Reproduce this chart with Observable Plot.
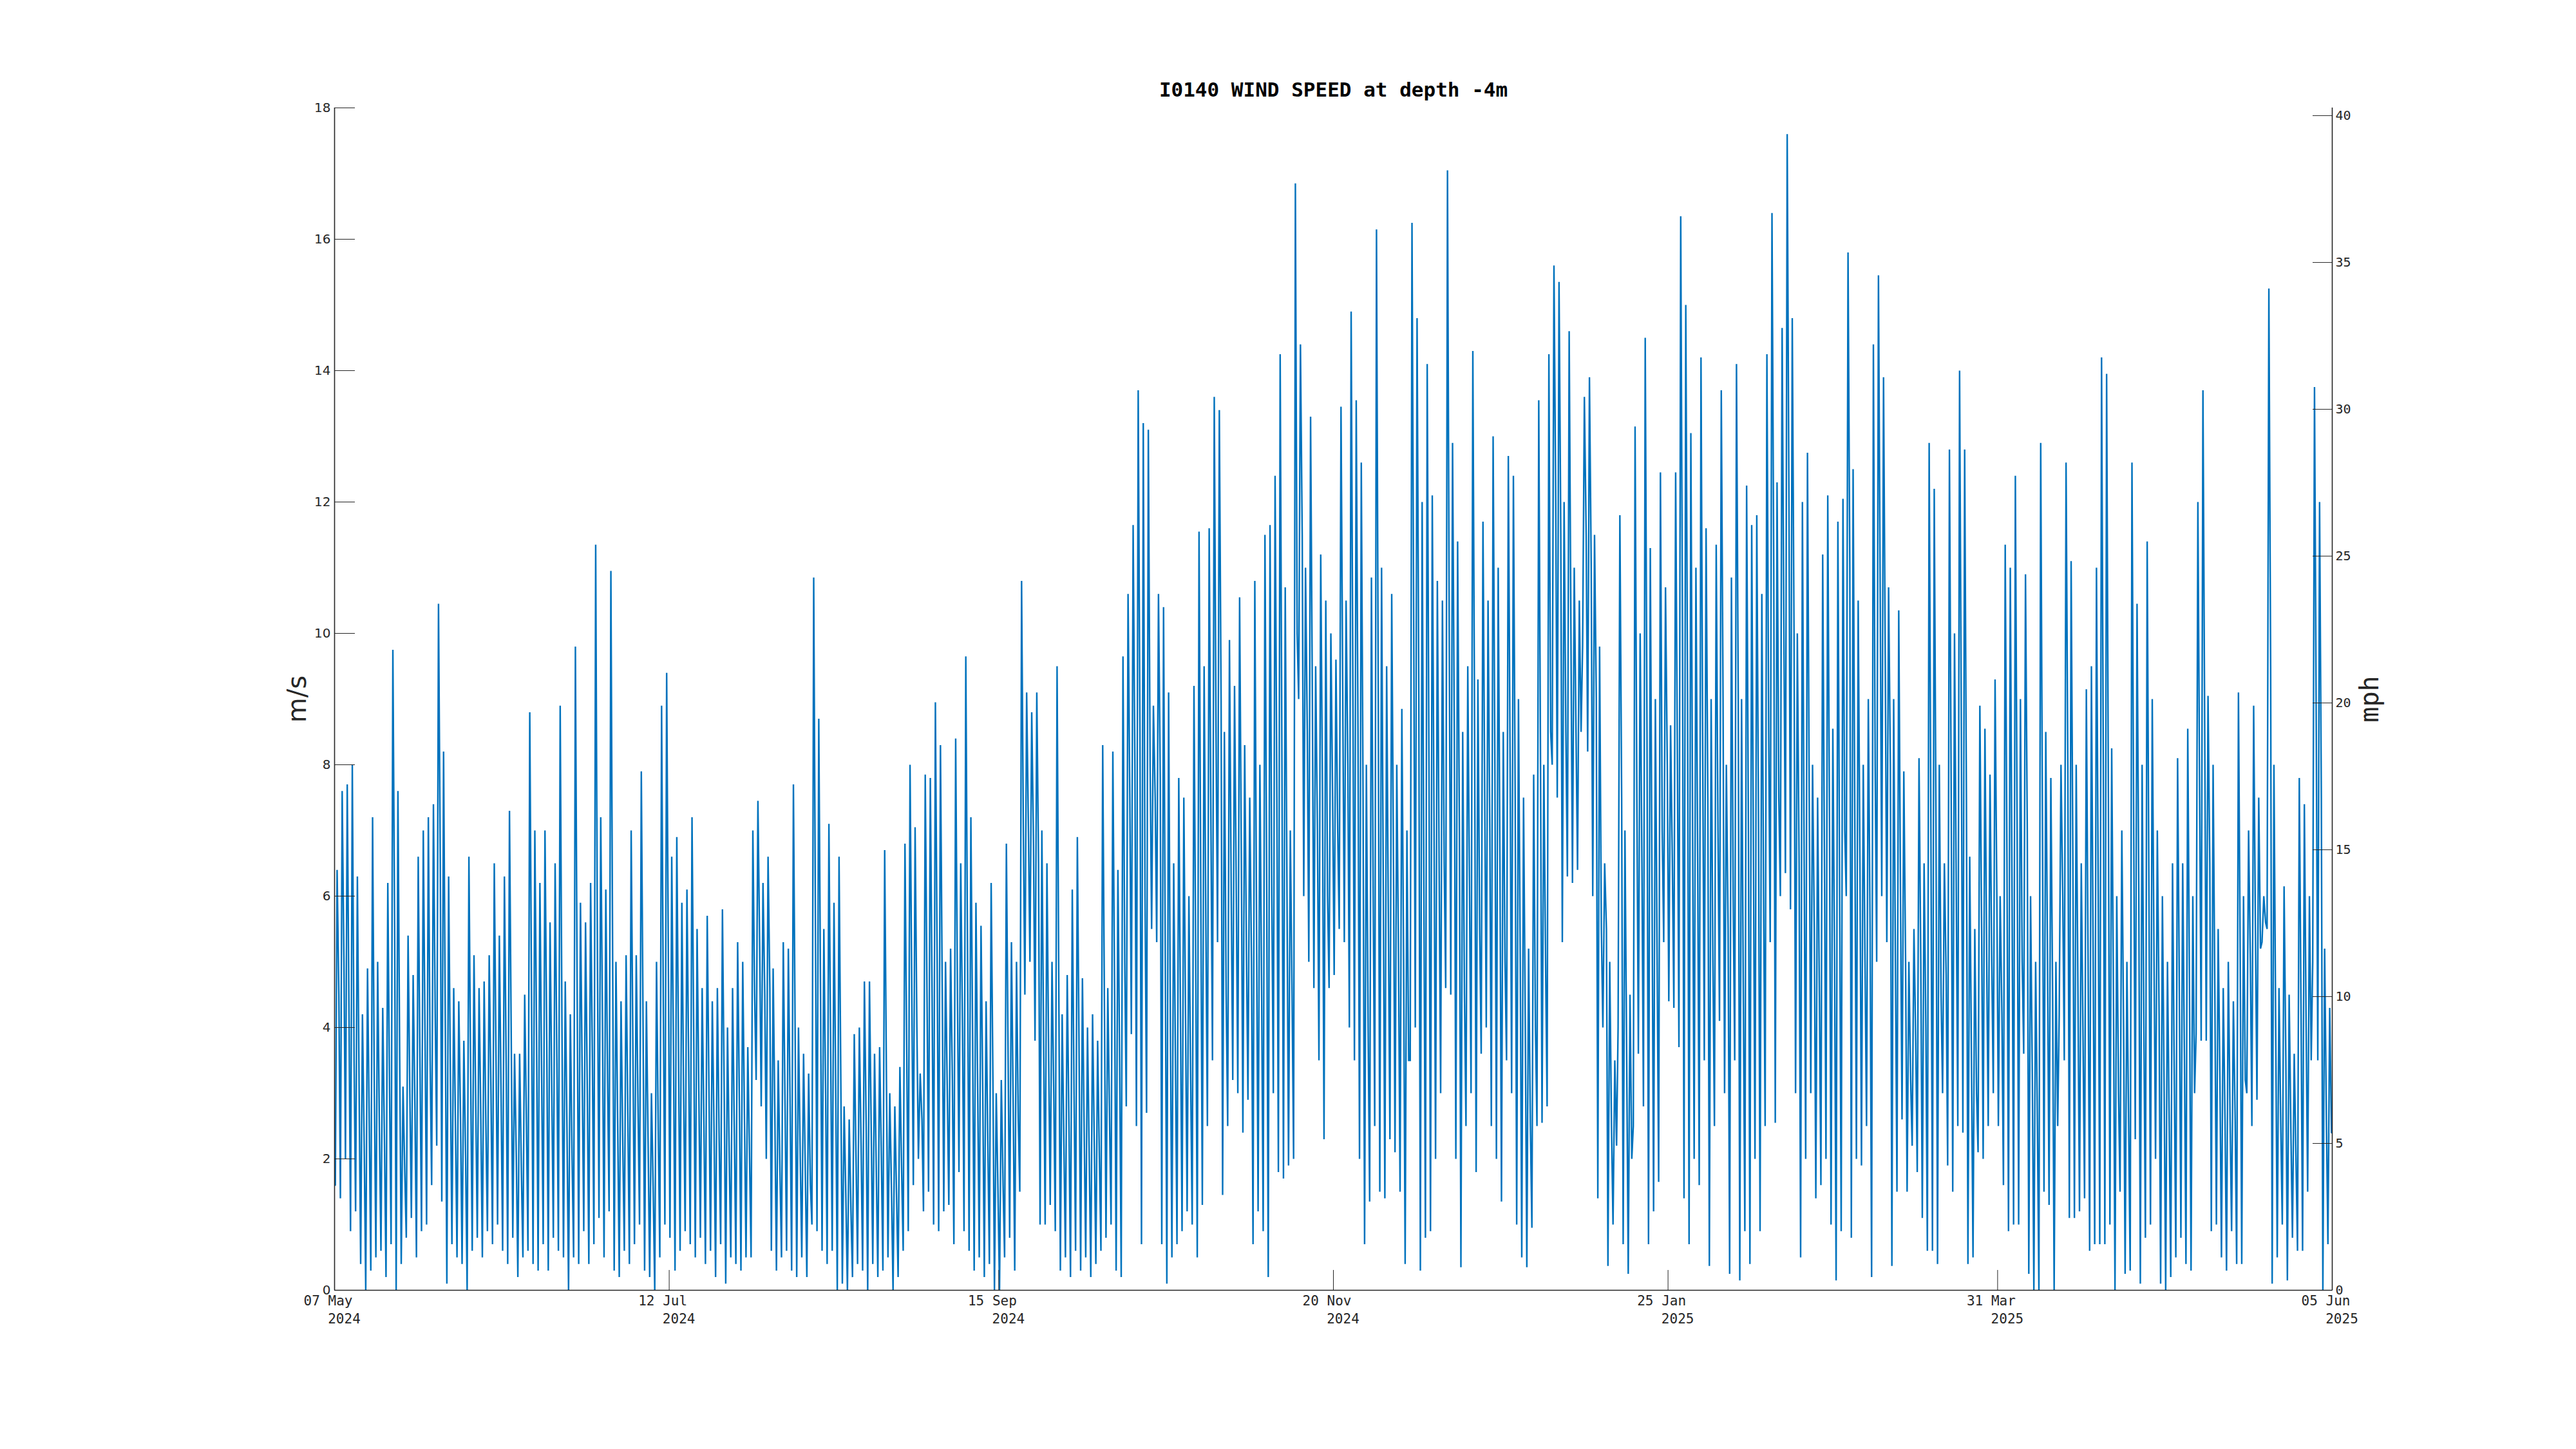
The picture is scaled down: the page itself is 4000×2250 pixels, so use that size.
<!DOCTYPE html>
<html>
<head>
<meta charset="utf-8">
<script src="https://cdn.jsdelivr.net/npm/d3@7"></script>
<script src="https://cdn.jsdelivr.net/npm/@observablehq/plot@0.6"></script>
<style>
  html, body { margin: 0; padding: 0; background: #ffffff; }
  #chart svg { display: block; }
</style>
</head>
<body>
<div id="chart"></div>
<script>
// ---- texts and ticks ----
const title = "I0140 WIND SPEED at depth -4m";
const yLabelLeft = "m/s";
const yLabelRight = "mph";
const startDate = "2024-05-07";
const endDate = "2025-06-05";
const xTickDates = ["2024-05-07", "2024-07-12", "2024-09-15", "2024-11-20", "2025-01-25", "2025-03-31", "2025-06-05"];
const xTickLine1 = ["07 May", "12 Jul", "15 Sep", "20 Nov", "25 Jan", "31 Mar", "05 Jun"];
const xTickLine2 = ["2024", "2024", "2024", "2024", "2025", "2025", "2025"];
const msTicks = [0, 2, 4, 6, 8, 10, 12, 14, 16, 18];
const mphTicks = [0, 5, 10, 15, 20, 25, 30, 35, 40];
const MPH_TO_MS = 0.44704;

// ---- daily low / high / typical wind speed (m/s) ----
// 07 May - 11 Jul 2024
const hiA = [6.4, 7.6, 7.7, 8.0, 6.3, 4.2, 4.9, 7.2, 5.0, 4.3,
  6.2, 9.75, 7.6, 3.1, 5.4, 4.8, 6.6, 7.0, 7.2, 7.4,
  10.45, 8.2, 6.3, 4.6, 4.4, 3.8, 6.6, 5.1, 4.6, 4.7,
  5.1, 6.5, 5.4, 6.3, 7.3, 3.6, 3.6, 4.5, 8.8, 7.0,
  6.2, 7.0, 5.6, 6.5, 8.9, 4.7, 4.2, 9.8, 5.9, 5.6,
  6.2, 11.35, 7.2, 6.1, 10.95, 5.0, 4.4, 5.1, 7.0, 5.1,
  7.9, 4.4, 3.0, 5.0, 8.9, 9.4];
const loA = [1.6, 1.4, 2.0, 0.9, 1.2, 0.4, 0.0, 0.3, 0.5, 0.6,
  0.2, 0.7, 0.0, 0.4, 0.8, 1.1, 0.5, 0.9, 1.0, 1.6,
  2.2, 1.35, 0.1, 0.7, 0.5, 0.4, 0.0, 0.6, 0.8, 0.5,
  0.9, 0.7, 1.0, 0.6, 0.4, 0.8, 0.2, 0.5, 0.6, 0.4,
  0.3, 0.7, 0.3, 0.8, 0.6, 0.5, 0.0, 0.5, 0.4, 0.9,
  0.4, 0.7, 1.1, 0.5, 1.2, 0.3, 0.2, 0.6, 0.4, 0.7,
  1.0, 0.3, 0.2, 0.0, 0.5, 1.0];
const midA = [4.5, 5.0, 4.2, 3.5, 3.0, 2.2, 2.5, 3.0, 2.4, 2.2,
  3.0, 5.5, 3.5, 1.8, 3.0, 2.8, 3.4, 3.8, 3.5, 4.2,
  6.5, 4.0, 3.2, 2.5, 2.6, 2.0, 3.2, 2.8, 2.6, 2.5,
  3.0, 3.5, 2.9, 3.4, 3.8, 2.0, 1.8, 2.5, 4.5, 3.8,
  3.2, 3.8, 3.0, 3.5, 4.0, 2.4, 2.0, 4.5, 3.2, 3.0,
  3.5, 5.0, 4.0, 3.2, 5.0, 2.5, 2.2, 2.6, 3.6, 2.8,
  4.0, 2.2, 1.5, 2.4, 4.2, 4.8];
// 12 Jul - 14 Sep 2024
const hiB = [6.6, 6.9, 5.9, 6.1, 7.2, 5.5, 4.6, 5.7, 4.4, 4.6,
  5.8, 4.0, 4.6, 5.3, 5.0, 3.7, 7.0, 7.45, 6.2, 6.6,
  4.9, 3.5, 5.3, 5.2, 7.7, 4.0, 3.6, 3.3, 10.85, 8.7,
  5.5, 7.1, 5.9, 6.6, 2.8, 2.6, 3.9, 4.0, 4.7, 4.7,
  3.6, 3.7, 6.7, 3.0, 2.8, 3.4, 6.8, 8.0, 7.05, 3.3,
  7.85, 7.8, 8.95, 8.3, 5.0, 5.2, 8.4, 6.5, 9.65, 7.2,
  5.9, 5.55, 4.4, 6.2, 3.0];
const loB = [0.8, 0.3, 0.6, 0.9, 0.7, 0.5, 0.8, 0.4, 0.6, 0.2,
  0.7, 0.1, 0.5, 0.4, 0.3, 0.5, 0.5, 3.2, 2.8, 2.0,
  0.6, 0.3, 0.5, 0.6, 0.3, 0.2, 0.5, 0.2, 1.0, 0.9,
  0.6, 0.4, 0.6, 0.0, 0.1, 0.0, 0.2, 0.4, 0.3, 0.0,
  0.4, 0.2, 0.3, 0.5, 0.0, 0.2, 0.6, 0.9, 1.6, 2.0,
  1.2, 1.5, 1.0, 0.9, 1.2, 1.3, 0.7, 1.8, 0.9, 0.6,
  0.3, 0.5, 0.2, 0.4, 0.0];
const midB = [3.6, 3.5, 3.0, 3.4, 3.8, 3.0, 2.5, 3.0, 2.4, 2.3,
  3.0, 2.0, 2.4, 2.8, 2.6, 2.0, 4.5, 5.2, 4.5, 4.6,
  2.6, 1.8, 2.8, 2.8, 3.8, 2.0, 1.8, 1.6, 5.5, 4.5,
  3.0, 3.6, 3.0, 3.2, 1.4, 1.2, 2.0, 2.2, 2.5, 2.4,
  1.8, 2.0, 3.2, 1.5, 1.4, 1.8, 3.6, 4.5, 4.0, 2.6,
  4.5, 4.5, 5.0, 4.6, 3.0, 3.2, 4.5, 4.0, 5.0, 3.8,
  3.0, 3.0, 2.2, 3.2, 1.5];
// 15 Sep - 19 Nov 2024
const hiC = [3.2, 6.8, 5.3, 5.0, 10.8, 9.1, 8.8, 9.1, 7.0, 6.5,
  5.0, 9.5, 4.2, 4.8, 6.1, 6.9, 4.75, 4.0, 4.2, 3.8,
  8.3, 4.6, 8.2, 6.4, 9.65, 10.6, 11.65, 13.7, 13.2, 13.1,
  8.9, 10.6, 10.4, 9.1, 6.5, 7.8, 7.5, 6.0, 9.2, 11.55,
  9.5, 11.6, 13.6, 13.4, 8.5, 9.9, 9.2, 10.55, 8.3, 7.5,
  10.8, 8.0, 11.5, 11.65, 12.4, 14.25, 10.7, 7.0, 16.85, 14.4,
  11.0, 13.3, 9.5, 11.2, 10.5, 10.0];
const loC = [0.0, 0.5, 0.8, 0.3, 1.5, 4.5, 5.0, 3.8, 1.0, 1.0,
  1.3, 0.9, 0.3, 0.5, 0.2, 0.6, 0.3, 0.5, 0.2, 0.4,
  0.6, 0.8, 1.0, 0.3, 0.2, 2.8, 3.9, 2.5, 0.7, 2.7,
  5.5, 5.3, 0.7, 0.1, 0.5, 0.7, 0.9, 1.2, 1.0, 0.5,
  1.3, 2.5, 3.5, 5.3, 1.45, 2.5, 3.2, 3.0, 2.4, 2.9,
  0.7, 1.2, 0.9, 0.2, 3.0, 1.8, 1.7, 1.9, 2.0, 9.0,
  6.0, 5.0, 4.6, 3.5, 2.3, 4.6];
const midC = [1.6, 3.5, 2.8, 2.6, 7.0, 7.0, 6.8, 6.5, 3.8, 3.5,
  3.0, 4.5, 2.2, 2.5, 3.0, 3.5, 2.4, 2.0, 2.2, 2.0,
  4.2, 2.6, 4.5, 3.4, 5.0, 7.5, 8.0, 8.5, 6.0, 8.0,
  7.5, 7.8, 5.0, 4.0, 3.5, 4.0, 4.0, 3.2, 5.0, 6.0,
  5.5, 7.0, 8.5, 9.0, 4.5, 6.0, 6.0, 6.5, 5.2, 5.0,
  5.5, 4.5, 6.0, 6.0, 7.5, 8.0, 6.0, 4.5, 10.0, 11.5,
  8.5, 9.0, 7.0, 7.5, 6.0, 7.5];
// 20 Nov 2024 - 24 Jan 2025
const hiD = [9.6, 13.45, 10.5, 14.9, 13.55, 12.6, 8.0, 10.85, 16.15, 11.0,
  9.5, 10.6, 8.0, 8.85, 7.0, 16.25, 14.8, 12.0, 14.1, 12.1,
  10.8, 10.5, 17.05, 12.9, 11.4, 8.5, 9.5, 14.3, 9.3, 11.7,
  10.5, 13.0, 11.0, 8.5, 12.7, 12.4, 9.0, 7.5, 5.2, 7.85,
  13.55, 8.0, 14.25, 15.6, 15.35, 12.0, 14.6, 11.0, 10.5, 13.6,
  13.9, 11.5, 9.8, 6.5, 5.0, 3.5, 11.8, 7.0, 4.5, 13.15,
  10.0, 14.5, 11.3, 9.0, 12.45, 10.7];
const loD = [4.8, 5.5, 5.3, 4.0, 3.5, 2.0, 0.7, 1.35, 2.5, 1.5,
  1.4, 2.3, 2.1, 1.5, 0.4, 3.5, 4.0, 0.3, 0.8, 0.9,
  2.0, 3.0, 4.6, 4.5, 2.0, 0.35, 2.5, 3.0, 1.8, 3.6,
  4.0, 2.5, 2.0, 1.35, 3.5, 3.0, 1.0, 0.5, 0.35, 0.95,
  2.5, 2.55, 2.8, 8.0, 7.5, 5.3, 6.3, 6.2, 6.4, 9.8,
  8.2, 6.0, 1.4, 4.0, 0.37, 1.0, 4.0, 0.7, 0.25, 2.5,
  3.6, 2.8, 0.7, 1.2, 1.65, 5.3];
const midD = [7.0, 9.0, 8.0, 9.0, 8.5, 7.5, 4.0, 6.0, 9.0, 6.0,
  5.5, 6.5, 5.0, 5.0, 3.5, 10.0, 9.0, 6.0, 8.0, 7.0,
  6.5, 6.5, 10.0, 8.5, 7.0, 4.5, 6.0, 8.5, 5.5, 7.5,
  7.0, 8.0, 6.5, 5.0, 8.0, 7.5, 5.0, 4.0, 2.5, 4.0,
  8.0, 5.0, 8.5, 12.0, 11.5, 8.5, 10.0, 8.5, 8.5, 11.5,
  11.0, 9.0, 5.5, 5.5, 2.5, 2.2, 7.5, 3.5, 2.0, 7.5,
  6.5, 8.5, 6.0, 5.0, 7.0, 8.0];
// 25 Jan - 30 Mar 2025
const hiE = [8.6, 12.45, 16.35, 15.0, 13.05, 11.0, 14.2, 11.6, 9.0, 11.35,
  13.7, 8.0, 10.85, 14.1, 9.0, 12.25, 11.65, 11.8, 10.6, 14.25,
  16.4, 12.3, 14.65, 17.6, 14.8, 10.0, 12.0, 12.75, 8.0, 7.5,
  11.2, 12.1, 8.55, 11.7, 12.05, 15.8, 12.5, 10.5, 8.0, 9.0,
  14.4, 15.45, 13.9, 10.7, 9.0, 10.35, 7.9, 5.0, 5.5, 8.1,
  6.5, 12.9, 12.2, 8.0, 6.5, 12.8, 10.0, 14.0, 12.8, 6.6,
  5.5, 8.9, 8.55, 7.85, 9.3];
const loE = [4.4, 4.3, 3.7, 1.4, 0.7, 2.0, 1.6, 3.5, 0.37, 2.5,
  4.1, 3.0, 0.25, 3.5, 0.15, 0.9, 0.4, 2.0, 0.9, 2.5,
  5.3, 2.55, 6.0, 6.35, 5.8, 3.0, 0.5, 2.0, 3.0, 1.4,
  1.6, 2.0, 1.0, 0.15, 0.9, 6.0, 0.8, 2.0, 1.9, 2.5,
  0.2, 5.0, 6.0, 5.3, 0.37, 1.5, 2.6, 1.5, 2.2, 1.8,
  1.1, 0.6, 0.6, 0.4, 3.0, 1.9, 1.5, 2.5, 2.4, 0.4,
  0.5, 2.1, 2.0, 2.5, 3.0];
const midE = [6.5, 8.0, 10.0, 9.0, 7.0, 6.5, 8.0, 7.5, 5.0, 7.0,
  9.0, 5.5, 6.0, 9.0, 4.5, 7.0, 6.5, 7.0, 6.0, 8.5,
  11.0, 7.5, 10.0, 12.0, 10.0, 6.5, 6.5, 7.5, 5.5, 4.5,
  6.5, 7.0, 5.0, 6.0, 7.0, 11.0, 7.0, 6.5, 5.0, 5.5,
  8.0, 10.5, 9.5, 8.0, 5.0, 6.0, 5.0, 3.2, 3.8, 5.0,
  4.0, 7.0, 7.0, 4.5, 4.8, 7.5, 6.0, 8.5, 7.5, 3.5,
  3.0, 5.5, 5.0, 5.0, 6.0];
// 31 Mar - 04 Jun 2025
const hiF = [6.0, 11.35, 11.0, 12.4, 9.0, 10.9, 6.0, 5.0, 12.9, 8.5,
  7.8, 5.0, 8.0, 12.6, 11.1, 8.0, 6.5, 9.15, 9.5, 11.0,
  14.2, 13.95, 8.25, 6.0, 7.0, 5.0, 12.6, 10.45, 8.0, 11.4,
  9.0, 7.0, 6.0, 5.0, 6.5, 8.1, 6.5, 8.55, 6.0, 12.0,
  13.7, 9.05, 8.0, 5.5, 4.6, 5.0, 4.4, 9.1, 6.0, 7.0,
  8.9, 7.5, 6.0, 15.25, 8.0, 4.6, 6.15, 4.5, 3.6, 7.8,
  7.4, 6.0, 13.75, 12.0, 5.2, 4.3];
const loF = [2.5, 1.6, 0.9, 1.0, 1.0, 3.6, 0.25, 0.0, 0.0, 1.5,
  1.3, 0.0, 4.2, 3.5, 1.1, 1.1, 1.2, 1.4, 0.6, 0.7,
  0.7, 0.7, 1.0, 0.0, 1.5, 0.25, 0.3, 2.3, 0.1, 0.8,
  1.0, 2.0, 0.1, 0.0, 0.2, 0.5, 0.8, 0.4, 0.3, 3.9,
  3.8, 3.8, 0.9, 1.0, 0.5, 0.3, 0.9, 0.4, 0.4, 3.0,
  2.5, 2.9, 5.3, 5.5, 0.1, 0.5, 1.0, 0.15, 0.8, 0.6,
  0.6, 1.5, 5.0, 3.5, 0.0, 0.7];
const midF = [4.2, 6.5, 6.0, 7.0, 5.0, 7.0, 3.2, 2.5, 7.0, 5.0,
  4.5, 2.5, 6.0, 8.0, 6.5, 4.5, 3.8, 5.0, 5.0, 6.0,
  8.0, 7.5, 4.5, 3.0, 4.0, 2.5, 7.0, 6.0, 4.0, 6.0,
  5.0, 4.2, 3.0, 2.5, 3.2, 4.5, 3.5, 4.5, 3.0, 7.5,
  8.5, 6.5, 4.5, 3.2, 2.6, 2.6, 2.6, 5.0, 3.2, 5.0,
  5.5, 5.2, 5.6, 9.5, 4.0, 2.5, 3.5, 2.4, 2.0, 4.2,
  4.0, 3.5, 8.5, 7.5, 2.6, 2.4];

// ---- build the series: each day low, high, then typical level ----
const hi = [...hiA, ...hiB, ...hiC, ...hiD, ...hiE, ...hiF];
const lo = [...loA, ...loB, ...loC, ...loD, ...loE, ...loF];
const mid = [...midA, ...midB, ...midC, ...midD, ...midE, ...midF];
const t0 = new Date(startDate + "T00:00:00Z").getTime();
const DAY = 864e5;
const series = [];
hi.forEach((h, d) => {
  series.push({t: new Date(t0 + (d + 0.15) * DAY), v: lo[d]});
  series.push({t: new Date(t0 + (d + 0.5) * DAY), v: h});
  series.push({t: new Date(t0 + (d + 0.85) * DAY), v: mid[d]});
});

const xTicks = xTickDates.map(d => new Date(d + "T00:00:00Z"));
const line1 = new Map(xTicks.map((d, i) => [+d, xTickLine1[i]]));
const line2 = new Map(xTicks.map((d, i) => [+d, xTickLine2[i]]));
const axisColor = "#262626";

const chart = Plot.plot({
  width: 4000,
  height: 2250,
  marginLeft: 519,
  marginRight: 379,
  marginTop: 167,
  marginBottom: 247,
  style: {background: "#ffffff", fontFamily: "DejaVu Sans Mono", overflow: "visible"},
  x: {type: "utc", domain: [xTicks[0], xTicks[xTicks.length - 1]]},
  y: {domain: [0, 18]},
  marks: [
    Plot.line(series, {x: "t", y: "v", stroke: "#0072BD", strokeWidth: 2.4, strokeLinejoin: "miter", strokeMiterlimit: 3}),
    Plot.ruleY([0], {stroke: axisColor, strokeWidth: 1.6}),
    Plot.ruleX([xTicks[0], xTicks[xTicks.length - 1]], {stroke: axisColor, strokeWidth: 1.6}),
    Plot.axisY({anchor: "left", ticks: msTicks, tickSize: -32, tickPadding: 38,
      fontSize: 20, fontFamily: "DejaVu Sans", color: axisColor, label: null, tickFormat: d => String(d)}),
    Plot.axisY({anchor: "right", ticks: mphTicks.map(m => m * MPH_TO_MS), tickSize: -31, tickPadding: 36,
      fontSize: 20, fontFamily: "DejaVu Sans Mono", color: axisColor, label: null,
      tickFormat: d => String(Math.round(d / MPH_TO_MS))}),
    Plot.axisX({ticks: xTicks, tickSize: -31, tickFormat: () => "", color: axisColor, label: null}),
    Plot.text(xTicks, {x: d => d, frameAnchor: "bottom", text: d => line1.get(+d), dx: -10, dy: 9,
      lineAnchor: "top", fontSize: 21, fontFamily: "DejaVu Sans Mono", fill: axisColor}),
    Plot.text(xTicks, {x: d => d, frameAnchor: "bottom", text: d => line2.get(+d), dx: 15, dy: 37,
      lineAnchor: "top", fontSize: 21, fontFamily: "DejaVu Sans Mono", fill: axisColor}),
    Plot.text([title], {frameAnchor: "top", text: d => d, dy: -27, lineAnchor: "middle",
      fontSize: 31, fontWeight: "bold", fontFamily: "DejaVu Sans Mono", fill: "#000000"}),
    Plot.text([yLabelLeft], {frameAnchor: "left", text: d => d, dx: -57, rotate: -90,
      textAnchor: "middle", lineAnchor: "middle",
      fontSize: 40, fontFamily: "DejaVu Sans", fill: axisColor}),
    Plot.text([yLabelRight], {frameAnchor: "right", text: d => d, dx: 59, rotate: -90,
      textAnchor: "middle", lineAnchor: "middle",
      fontSize: 40, fontFamily: "DejaVu Sans Mono", fill: axisColor})
  ]
});
document.getElementById("chart").appendChild(chart);
</script>
</body>
</html>
